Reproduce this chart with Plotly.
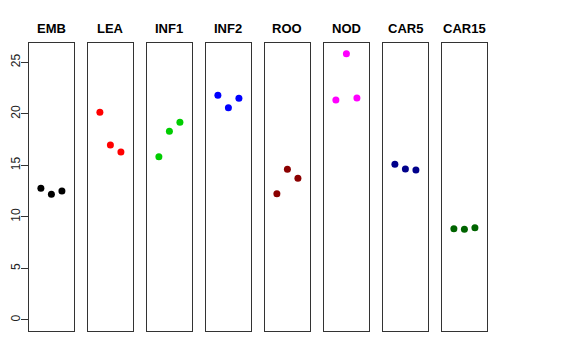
import plotly.graph_objects as go

categories = ["EMB", "LEA", "INF1", "INF2", "ROO", "NOD", "CAR5", "CAR15"]
colors = ["#000000", "#FF0000", "#00CD00", "#0000FF", "#8B0000", "#FF00FF", "#00008B", "#006400"]
values = {
    "EMB": [12.77, 12.19, 12.51],
    "LEA": [20.14, 16.97, 16.29],
    "INF1": [15.84, 18.30, 19.17],
    "INF2": [21.79, 20.59, 21.50],
    "ROO": [12.25, 14.62, 13.74],
    "NOD": [21.34, 25.83, 21.53],
    "CAR5": [15.10, 14.65, 14.55],
    "CAR15": [8.86, 8.80, 8.95],
}
replicates = [1, 2, 3]
y_ticks = [0, 5, 10, 15, 20, 25]

# page has an 8px body margin, so offset the figure geometry accordingly
OFF = 8
W, H = 576, 360
PW, PH = 459, 288
L, T = 29 - OFF, 43 - OFF
R, B = W - L - PW, H - T - PH
fig = go.Figure()
pitch, pw = 59.0, 44.8

layout = dict(
    width=W, height=H, margin=dict(l=L, r=R, t=T, b=B, autoexpand=False),
    paper_bgcolor="white", plot_bgcolor="white", showlegend=False,
    font=dict(family="Liberation Sans, Arial, sans-serif", color="black"),
)
annotations = []
for i, cat in enumerate(categories):
    n = "" if i == 0 else str(i + 1)
    x0 = (i * pitch) / PW
    x1 = min(1.0, (i * pitch + pw) / PW)
    fig.add_trace(go.Scatter(
        x=replicates, y=values[cat], mode="markers",
        marker=dict(color=colors[i], size=7),
        xaxis="x" + n, yaxis="y" + n,
    ))
    layout["xaxis" + n] = dict(
        domain=[x0, x1], range=[-0.13, 4.13], showticklabels=False, ticks="",
        showgrid=False, zeroline=False, showline=True, mirror=True,
        linecolor="#333333", linewidth=1, anchor="y" + n, automargin=False,
    )
    ya = dict(
        domain=[0, 1], range=[-1.07, 26.87], showgrid=False, zeroline=False,
        showline=True, mirror=True, linecolor="#333333", linewidth=1,
        anchor="x" + n, automargin=False,
    )
    if i == 0:
        ya.update(tickvals=y_ticks, ticktext=[str(v) for v in y_ticks], ticks="outside",
                  ticklen=7, tickcolor="#333333", tickangle=-90,
                  ticklabelstandoff=-4,
                  tickfont=dict(size=12, color="#222222"))
    else:
        ya.update(showticklabels=False, ticks="")
    layout["yaxis" + n] = ya
    annotations.append(dict(
        x=(x0 + x1) / 2, y=1 + 14 / PH, xref="paper", yref="paper",
        text="<b>" + cat + "</b>", showarrow=False,
        font=dict(size=13, color="black"), xanchor="center", yanchor="middle",
    ))
layout["annotations"] = annotations
fig.update_layout(**layout)
fig.write_html("out.html")
